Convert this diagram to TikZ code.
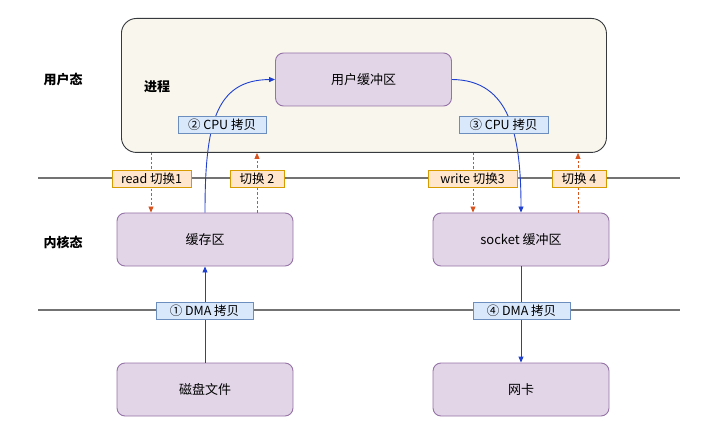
\documentclass[tikz,border=0pt]{standalone}
\usepackage{fontspec}
\setmainfont{Noto Sans CJK SC}
\usetikzlibrary{arrows.meta}
\definecolor{procfill}{HTML}{F9F7ED}
\definecolor{procdraw}{HTML}{36393D}
\definecolor{purfill}{HTML}{E1D5E7}
\definecolor{purdraw}{HTML}{9673A6}
\definecolor{bluefill}{HTML}{DAE8FC}
\definecolor{bluedraw}{HTML}{6C8EBF}
\definecolor{orfill}{HTML}{FFE6CC}
\definecolor{ordraw}{HTML}{D79B00}
\definecolor{arrblue}{HTML}{1F3FD0}
\definecolor{arror}{HTML}{D9531E}
\tikzset{
  purbox/.style={draw=purdraw, fill=purfill, rounded corners=8pt, line width=0.9pt,
    minimum width=176pt, minimum height=53pt, font=\fontsize{13}{15}\selectfont, inner sep=0pt},
  bluelab/.style={draw=bluedraw, fill=bluefill, line width=0.8pt, minimum height=17pt,
    inner sep=1pt, font=\fontsize{12.5}{14}\selectfont},
  orlab/.style={draw=ordraw, fill=orfill, line width=0.8pt, minimum height=17pt,
    inner sep=1pt, font=\fontsize{12.5}{14}\selectfont},
  barr/.style={draw=arrblue, line width=0.9pt, -{Triangle[length=6pt,width=5pt]}},
  oarr/.style={draw=arror, line width=0.8pt, dash pattern=on 2.5pt off 2pt, -{Triangle[length=6pt,width=5pt]}},
  sidelab/.style={font=\bfseries\fontsize{13}{15}\selectfont},
  hline/.style={draw=black!55, line width=1.1pt}
}
\begin{document}
\begin{tikzpicture}[x=1pt,y=-1pt]
\useasboundingbox (0,0) rectangle (703,430);
% process
\node[draw=procdraw, fill=procfill, rounded corners=15pt, line width=0.9pt,
  minimum width=485pt, minimum height=134pt, anchor=north west] (proc) at (121,18) {};
\node[sidelab] (jc) at (157,87) {进程};
\node[sidelab] (ut) at (63,80) {用户态};
\node[sidelab] (kt) at (63,242) {内核态};
% lines
\coordinate (l1a) at (38,178); \coordinate (l1b) at (680,178);
\coordinate (l2a) at (38,310); \coordinate (l2b) at (680,310);
\draw[hline] (l1a) -- (l1b);
\draw[hline] (l2a) -- (l2b);
% boxes
\node[purbox] (ubuf) at (363.5,79.5) {用户缓冲区};
\node[purbox] (cache) at (205,239.5) {缓存区};
\node[purbox] (sock) at (521,239.5) {socket 缓冲区};
\node[purbox] (disk) at (205,389.5) {磁盘文件};
\node[purbox] (nic) at (521,389.5) {网卡};
% blue arrows
\draw[barr] (disk.north) -- (cache.south);
\draw[barr] (cache.north) .. controls (205,125) and (215,80) .. (ubuf.west);
\draw[barr] (ubuf.east) .. controls (510,80) and (521,135) .. (sock.north);
\draw[barr] (sock.south) -- (nic.north);
% orange dashed
\draw[oarr] (proc.south west -| 151,0) -- (cache.north -| 151,0);
\draw[oarr] (cache.north -| 257,0) -- (proc.south -| 257,0);
\draw[oarr] (proc.south -| 473,0) -- (sock.north -| 473,0);
\draw[oarr] (sock.north -| 578,0) -- (proc.south -| 578,0);
% labels
\node[bluelab, minimum width=88pt] (c2) at (222,124.5) {② CPU 拷贝};
\node[bluelab, minimum width=89pt] (c3) at (503.5,124.5) {③ CPU 拷贝};
\node[bluelab, minimum width=97pt] (d1) at (204.5,310.5) {① DMA 拷贝};
\node[bluelab, minimum width=97pt] (d4) at (521.5,310.5) {④ DMA 拷贝};
\node[orlab, minimum width=79pt] (s1) at (151.5,178.5) {read 切换1};
\node[orlab, minimum width=54pt] (s2) at (257,178.5) {切换 2};
\node[orlab, minimum width=89pt] (s3) at (472.5,178.5) {write 切换3};
\node[orlab, minimum width=54pt] (s4) at (579,178.5) {切换 4};
\end{tikzpicture}
\end{document}
